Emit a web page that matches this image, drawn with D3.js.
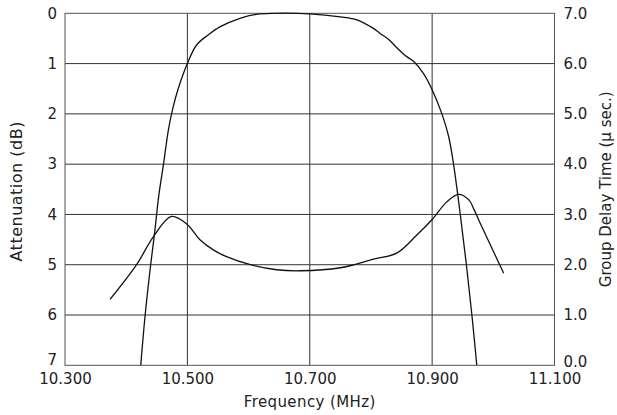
<!DOCTYPE html>
<html>
<head>
<meta charset="utf-8">
<script src="https://cdn.jsdelivr.net/npm/d3@7"></script>
<style>
  html, body { margin: 0; padding: 0; background: #fff; }
  svg text { font-family: "DejaVu Sans", sans-serif; fill: #222; }
</style>
</head>
<body>
<div id="chart"></div>
<script>
// 감쇠 곡선 (dB) — 주파수 대비
const attFreq = [10.4238, 10.431, 10.440, 10.447, 10.453, 10.461, 10.469, 10.476, 10.485, 10.500,
  10.515, 10.534, 10.553, 10.586, 10.613, 10.641, 10.700, 10.750, 10.777, 10.804, 10.815, 10.829,
  10.842, 10.856, 10.870, 10.886, 10.900, 10.916, 10.927, 10.935, 10.946, 10.956, 10.965, 10.973];
const attDb = [7.0, 6.0, 5.0, 4.31, 3.65, 3.0, 2.32, 1.90, 1.50, 1.0,
  0.63, 0.43, 0.27, 0.10, 0.02, 0.0, 0.01, 0.07, 0.13, 0.30, 0.40, 0.52,
  0.68, 0.84, 0.96, 1.20, 1.52, 2.0, 2.45, 3.0, 4.0, 5.0, 6.0, 7.0];

// 군지연 곡선 (μs)
const gdFreq = [10.3736, 10.417, 10.444, 10.474, 10.499, 10.521, 10.543, 10.564, 10.603, 10.646,
  10.684, 10.750, 10.804, 10.842, 10.875, 10.900, 10.924, 10.943, 10.960, 10.968, 10.978, 11.017];
const gdUs = [1.31, 2.0, 2.55, 2.96, 2.81, 2.49, 2.29, 2.16, 2.0, 1.90,
  1.88, 1.94, 2.11, 2.23, 2.59, 2.90, 3.25, 3.40, 3.29, 3.11, 2.84, 1.83];

const freqTicks = [10.3, 10.5, 10.7, 10.9, 11.1];
const attTicks = [0, 1, 2, 3, 4, 5, 6, 7];
const gdTicks = [0, 1, 2, 3, 4, 5, 6, 7];

const W = 617, H = 415;
const m = { top: 13.3, right: 62.5, bottom: 49.7, left: 65 };
const iw = W - m.left - m.right, ih = H - m.top - m.bottom;

const svg = d3.select('#chart').append('svg')
  .attr('width', W).attr('height', H);
const g = svg.append('g').attr('transform', `translate(${m.left},${m.top})`);

const x = d3.scaleLinear().domain([10.3, 11.1]).range([0, iw]);
const yA = d3.scaleLinear().domain([0, 7]).range([0, ih]);
const yG = d3.scaleLinear().domain([0, 7]).range([ih, 0]);

// 격자
g.append('g').selectAll('line').data(freqTicks.slice(1, -1)).join('line')
  .attr('x1', d => x(d)).attr('x2', d => x(d)).attr('y1', 0).attr('y2', ih)
  .attr('stroke', '#333').attr('stroke-width', 1);
g.append('g').selectAll('line').data(attTicks.slice(1, -1)).join('line')
  .attr('x1', 0).attr('x2', iw).attr('y1', d => yA(d)).attr('y2', d => yA(d))
  .attr('stroke', '#333').attr('stroke-width', 1);
g.append('rect').attr('width', iw).attr('height', ih)
  .attr('fill', 'none').attr('stroke', '#555').attr('stroke-width', 1);

// 축
const axL = g.append('g').call(d3.axisLeft(yA).tickValues(attTicks).tickSize(0).tickPadding(8).tickFormat(d3.format('d')));
const axR = g.append('g').attr('transform', `translate(${iw},0)`)
  .call(d3.axisRight(yG).tickValues(gdTicks).tickSize(0).tickPadding(9).tickFormat(d3.format('.1f')));
const axB = g.append('g').attr('transform', `translate(0,${ih})`)
  .call(d3.axisBottom(x).tickValues(freqTicks).tickSize(0).tickPadding(8).tickFormat(d3.format('.3f')));
[axL, axR, axB].forEach(a => {
  a.select('.domain').remove();
  a.selectAll('text').attr('font-size', 15).attr('font-family', '"DejaVu Sans", sans-serif').attr('fill', '#222');
});
// 맨 아래 눈금 글자는 축선 위로 살짝 올림
axL.selectAll('.tick').filter(d => d === 7).select('text').attr('dy', '-0.05em');
axR.selectAll('.tick').filter(d => d === 0).select('text').attr('dy', '0.1em');

// 곡선
const attData = attFreq.map((f, i) => [f, attDb[i]]);
const gdData = gdFreq.map((f, i) => [f, gdUs[i]]);
g.append('path').datum(attData)
  .attr('fill', 'none').attr('stroke', '#111').attr('stroke-width', 1.3)
  .attr('d', d3.line().x(d => x(d[0])).y(d => yA(d[1])).curve(d3.curveCatmullRom.alpha(0.5)));
g.append('path').datum(gdData)
  .attr('fill', 'none').attr('stroke', '#111').attr('stroke-width', 1.3)
  .attr('d', d3.line().x(d => x(d[0])).y(d => yG(d[1])).curve(d3.curveCatmullRom.alpha(0.5)));

// 축 제목
svg.append('text').attr('transform', `translate(16,${m.top + ih / 2 + 2}) rotate(-90)`)
  .attr('text-anchor', 'middle').attr('dominant-baseline', 'central')
  .attr('font-size', 16).attr('letter-spacing', 0.5).text('Attenuation (dB)');
svg.append('text').attr('transform', `translate(606,${m.top + ih / 2}) rotate(-90)`)
  .attr('text-anchor', 'middle').attr('dominant-baseline', 'central')
  .attr('font-size', 15).text('Group Delay Time (μ sec.)');
svg.append('text').attr('x', m.left + iw / 2).attr('y', 402)
  .attr('text-anchor', 'middle').attr('dominant-baseline', 'central')
  .attr('font-size', 15).attr('letter-spacing', 0.4).text('Frequency (MHz)');
</script>
</body>
</html>
